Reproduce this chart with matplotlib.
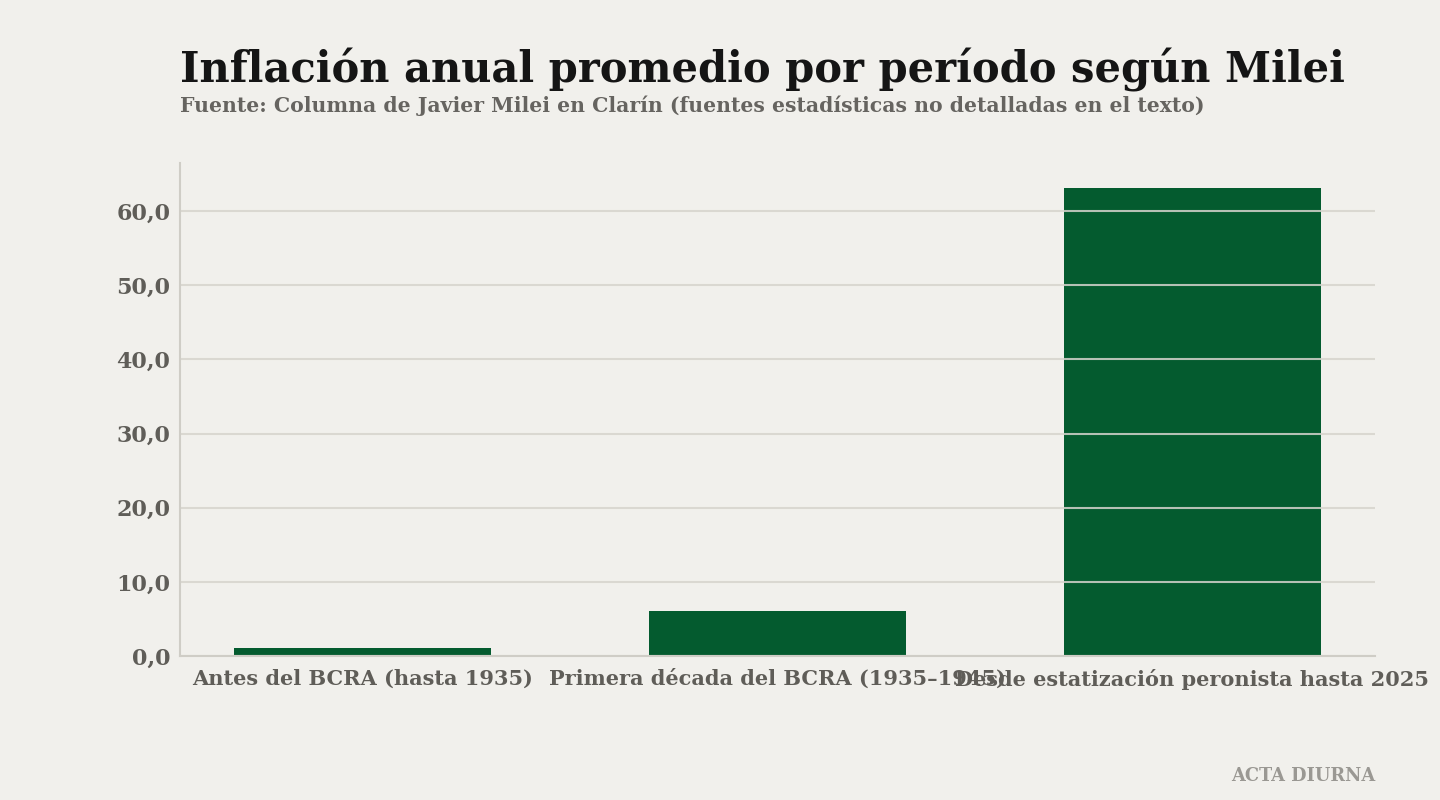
import matplotlib
matplotlib.use("Agg")
import matplotlib.pyplot as plt
from matplotlib.ticker import FuncFormatter

categories = ["Antes del BCRA (hasta 1935)",
              "Primera década del BCRA (1935–1945)",
              "Desde estatización peronista hasta 2025"]
values = [1.1, 6.1, 63.1]
yticks = [0, 10, 20, 30, 40, 50, 60]

BG = "#f1f0ec"
GREEN = "#045b2f"
GRID = "#d6d4cd"
TXT = "#5f5d58"
FONT = ["DejaVu Serif"]

fig = plt.figure(figsize=(14.4, 8), dpi=100, facecolor=BG)
ax = fig.add_axes([180/1440, 1-656/800, 1195/1440, (656-163)/800])
ax.set_facecolor(BG)

x = list(range(len(categories)))
ax.bar(x, values, width=0.62, color=GREEN, zorder=2)
ax.set_xlim(-0.44, 2.44)
ax.set_ylim(0, 66.5)
ax.set_yticks(yticks)
ax.yaxis.set_major_formatter(FuncFormatter(lambda v, p: f"{v:.1f}".replace(".", ",")))
ax.grid(axis="y", color=GRID, linewidth=1.5, zorder=3, alpha=0.85)
ax.set_axisbelow(False)
for s in ["top", "right"]:
    ax.spines[s].set_visible(False)
for s in ["left", "bottom"]:
    ax.spines[s].set_color("#cfcdc6")
    ax.spines[s].set_linewidth(1.5)
    ax.spines[s].set_zorder(4)
ax.tick_params(axis="both", length=0, colors=TXT)
ax.tick_params(axis="y", pad=7)
ax.tick_params(axis="x", pad=9)
ax.set_xticks(x)
ax.set_xticklabels(categories, fontsize=15, fontweight="bold", color=TXT, family=FONT)
for lab in ax.get_yticklabels():
    lab.set_fontsize(16)
    lab.set_fontweight("bold")
    lab.set_color(TXT)
    lab.set_family(FONT)

fig.text(180/1440, 1-70/800, "Inflación anual promedio por período según Milei",
         fontsize=30, fontweight="bold", color="#151515", family=FONT, va="center", ha="left")
fig.text(180/1440, 1-106/800,
         "Fuente: Columna de Javier Milei en Clarín (fuentes estadísticas no detalladas en el texto)",
         fontsize=14.7, fontweight="bold", color="#666460", family=FONT, va="center", ha="left")
fig.text(1375/1440, 1-776/800, "ACTA DIURNA", fontsize=12.8, fontweight="bold",
         color="#9a9893", family=FONT, va="center", ha="right")

fig.savefig("out.png", dpi=100, facecolor=BG)
